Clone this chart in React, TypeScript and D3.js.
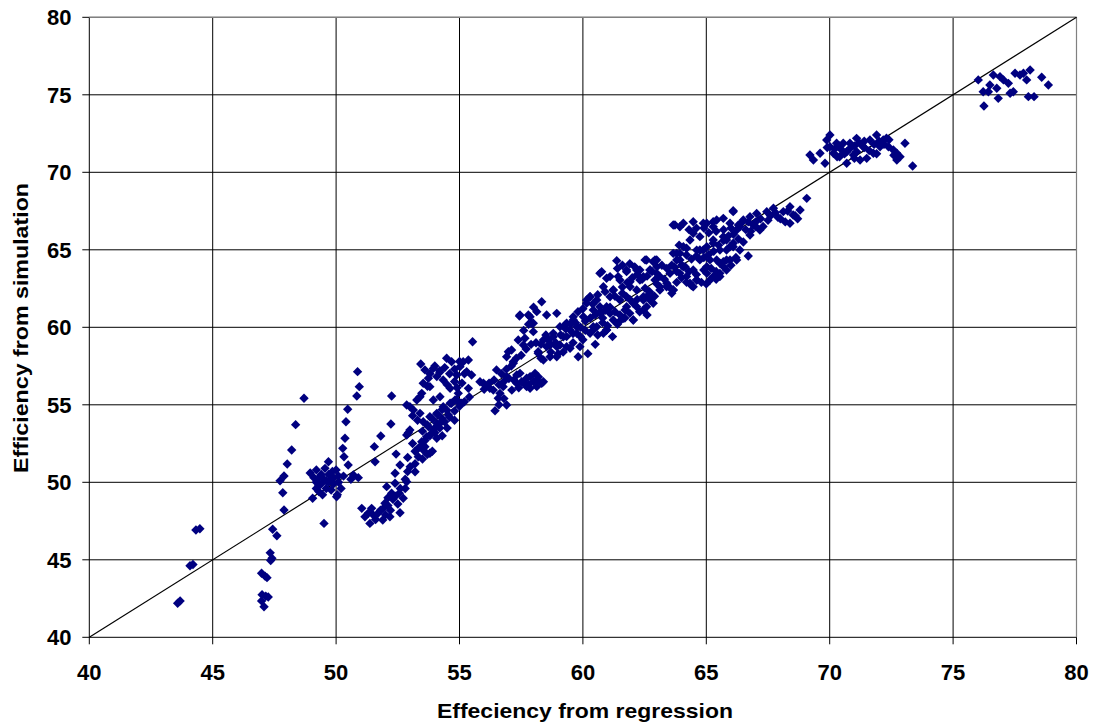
import React from "react";
import * as d3 from "d3";

const xTicks = [40, 45, 50, 55, 60, 65, 70, 75, 80];
const yTicks = [40, 45, 50, 55, 60, 65, 70, 75, 80];
const xTitle = "Effeciency from regression";
const yTitle = "Efficiency from simulation";

const lowLeft: [number, number][] = [
  [43.58, 42.2], [43.68, 42.35], [44.08, 44.62], [44.2, 44.7], [44.32, 46.92], [44.48, 47.0],
  [46.98, 44.13], [47.12, 43.95], [47.2, 43.85], [47.0, 42.75], [47.15, 42.65], [47.25, 42.6],
  [47.08, 41.97], [46.98, 42.35], [47.33, 45.45], [47.4, 45.1], [47.35, 44.95], [47.43, 46.97],
  [47.6, 46.55], [47.89, 48.21], [47.84, 49.33], [47.73, 50.1], [47.89, 50.41], [48.02, 51.18],
  [48.2, 52.08], [48.36, 53.72], [48.7, 55.42],
];

const cluster50: [number, number][] = [
  [48.95, 50.6], [49.1, 50.3], [49.2, 50.0], [49.3, 49.8], [49.05, 48.97], [49.4, 50.5], [49.5, 50.2],
  [49.6, 49.6], [49.55, 50.9], [49.7, 50.0], [49.8, 49.5], [49.9, 50.3], [49.69, 51.33], [49.51, 47.35],
  [49.3, 49.4], [50.0, 50.8], [50.05, 49.2], [49.85, 50.7], [49.2, 50.8], [49.45, 49.2], [50.02, 49.07],
  [50.1, 50.0], [50.2, 49.6], [50.3, 50.4], [50.49, 51.12], [50.7, 50.47], [50.32, 51.65], [50.27, 52.19],
  [50.36, 52.84], [50.4, 53.91], [50.47, 54.71], [50.84, 55.57], [50.94, 56.17], [50.87, 57.14],
  [50.6, 50.2], [50.9, 50.3], [49.3, 50.3], [49.4, 49.9], [49.6, 50.1], [49.7, 50.5], [49.9, 49.9],
  [50.1, 50.4], [49.2, 49.6], [49.8, 50.1],
];

const cluster52: [number, number][] = [
  [51.04, 48.32], [51.17, 47.78], [51.37, 47.35], [51.44, 48.32], [51.6, 47.6], [51.89, 47.57],
  [51.98, 48.65], [52.05, 49.72], [52.25, 49.29], [52.39, 49.94], [52.56, 49.29], [52.59, 48.04],
  [52.18, 47.78], [52.72, 48.97], [52.39, 50.58], [52.86, 50.04], [52.59, 51.12], [53.0, 51.0],
  [53.2, 50.68], [53.33, 51.65], [51.8, 48.2], [52.1, 48.5], [52.3, 48.9], [52.0, 47.9], [52.5, 48.6],
  [52.8, 49.6], [52.43, 51.82], [51.55, 52.3], [51.58, 51.33], [51.81, 52.99], [52.22, 53.76],
  [52.25, 55.57], [52.93, 53.2], [51.7, 48.0], [51.9, 48.3], [52.2, 48.2], [52.4, 49.1], [52.6, 49.6],
  [52.8, 50.2], [52.9, 50.7], [51.3, 48.0], [51.5, 47.9], [52.1, 49.0],
];

const band54: [number, number][] = [
  [52.86, 54.99], [53.13, 54.66], [52.99, 53.37], [53.4, 54.45], [53.53, 53.91], [53.74, 53.59],
  [53.94, 55.31], [54.08, 54.45], [54.21, 53.81], [53.87, 53.16], [54.34, 54.88], [54.55, 54.34],
  [54.62, 55.1], [54.82, 55.31], [55.02, 55.1], [54.95, 55.74], [54.08, 52.84], [53.4, 55.52],
  [52.86, 53.05], [53.33, 52.19], [53.53, 52.08], [53.8, 51.87], [53.47, 52.62], [53.67, 52.94],
  [53.94, 53.37], [54.08, 53.81], [54.28, 54.13], [54.48, 54.66], [54.68, 55.1], [54.89, 55.31],
  [55.09, 55.1], [52.99, 54.88], [53.27, 55.31], [53.47, 55.74], [53.8, 56.17], [54.21, 55.52],
  [53.8, 54.23], [54.5, 53.5], [54.8, 54.0], [54.3, 53.0], [53.6, 52.3], [53.9, 52.0], [54.0, 53.5],
  [53.2, 52.0], [53.4, 52.3], [53.6, 52.7], [53.8, 53.0], [54.0, 53.2], [54.2, 53.5], [54.4, 53.9],
  [54.6, 54.2], [54.8, 54.6], [55.0, 54.9], [55.2, 55.2], [55.4, 55.5], [53.5, 53.3], [53.7, 53.7],
  [53.9, 54.1], [54.1, 54.4], [54.3, 54.7], [53.3, 54.0], [53.1, 54.3], [53.2, 51.2], [53.5, 51.5],
  [53.7, 51.8], [52.9, 51.6], [53.1, 52.5],
];

const upper55: [number, number][] = [
  [53.43, 57.63], [53.6, 57.25], [53.94, 57.35], [53.74, 56.71], [54.08, 56.82], [54.48, 58.0],
  [54.68, 57.78], [54.34, 56.6], [54.62, 56.06], [54.89, 56.92], [55.15, 57.78], [55.36, 57.89],
  [55.29, 57.14], [55.36, 56.06], [55.49, 56.92], [55.53, 59.07], [53.53, 56.39], [55.02, 57.46],
  [54.2, 57.1], [54.8, 56.5], [55.1, 56.4], [53.7, 56.2], [54.0, 57.5], [54.2, 57.2], [54.4, 57.4],
  [54.6, 57.0], [54.8, 57.3], [55.0, 57.8], [55.2, 57.0], [53.8, 57.0], [54.5, 56.3], [54.9, 56.1],
];

const band57: [number, number][] = [
  [55.83, 56.49], [56.03, 56.28], [56.23, 56.06], [56.44, 54.62], [56.5, 57.25], [56.64, 55.74],
  [56.77, 56.17], [56.91, 56.82], [56.98, 58.43], [57.18, 57.78], [57.12, 55.95], [57.32, 56.92],
  [57.38, 59.18], [57.52, 56.49], [57.65, 59.29], [57.72, 56.71], [57.86, 56.06], [57.93, 60.26],
  [57.99, 59.72], [58.13, 61.01], [58.33, 61.65], [58.53, 60.79], [57.79, 60.79], [57.43, 60.73],
  [58.06, 57.03], [58.13, 56.17], [58.4, 56.49], [58.19, 58.43], [58.4, 57.89], [56.91, 54.99],
  [55.97, 56.39], [56.37, 55.95], [56.57, 55.42], [56.91, 58.1], [57.11, 58.54], [57.59, 58.86],
  [57.86, 60.68], [57.45, 60.79], [57.99, 60.26], [57.18, 57.68], [57.45, 57.03], [57.86, 56.82],
  [58.13, 56.6], [58.33, 56.39], [57.72, 56.17], [57.32, 56.39], [58.19, 58.32], [58.53, 58.75],
  [58.67, 58.1], [56.0, 56.0], [56.2, 56.4], [56.4, 56.6], [56.6, 56.3], [56.8, 56.5], [57.0, 56.7],
  [57.2, 56.6], [57.4, 56.1], [57.6, 56.4], [57.8, 56.3], [58.0, 56.5], [58.2, 56.8], [56.7, 57.0],
  [56.9, 57.3], [57.1, 57.5], [57.3, 58.0], [57.5, 58.2], [57.7, 58.6], [57.9, 58.9], [58.1, 59.0],
  [58.3, 58.9], [58.5, 59.5], [57.6, 59.8], [57.8, 60.2], [58.0, 61.3], [58.3, 58.0], [56.6, 55.0],
  [56.8, 55.4],
];

const cluster60: [number, number][] = [
  [58.6, 59.18], [58.8, 59.61], [58.94, 58.1], [59.07, 58.86], [59.28, 60.15], [59.34, 59.4],
  [59.48, 58.65], [59.61, 60.47], [59.75, 59.61], [59.81, 58.1], [58.4, 59.18], [58.8, 59.39],
  [59.07, 60.04], [59.21, 59.39], [59.34, 58.75], [59.48, 59.83], [59.88, 58.75], [58.94, 58.75],
  [58.94, 60.9], [60.15, 61.55], [60.29, 61.97], [60.42, 61.12], [60.69, 60.9], [60.96, 61.33],
  [60.56, 60.04], [60.96, 59.83], [61.23, 60.47], [61.64, 60.58], [62.04, 60.47], [61.77, 61.33],
  [62.18, 61.33], [62.45, 61.76], [62.58, 61.33], [62.85, 61.97], [60.29, 61.97], [60.56, 61.76],
  [61.1, 61.97], [61.5, 61.76], [61.77, 61.97], [62.04, 61.55], [62.45, 61.97], [62.72, 61.76],
  [61.71, 61.12], [62.04, 60.47], [61.47, 60.36], [60.96, 59.83], [60.42, 60.04], [60.02, 60.68],
  [60.15, 61.76], [60.69, 61.33], [61.1, 60.9], [59.61, 60.68], [59.34, 60.26], [59.75, 60.04],
  [60.29, 59.61], [60.83, 59.61], [60.0, 59.2], [60.5, 58.9], [60.2, 58.3], [59.6, 59.0],
  [61.2, 59.4], [60.8, 60.3], [61.9, 60.9], [62.3, 61.0], [62.6, 60.8],
  [58.7, 58.4], [58.9, 59.0], [59.1, 59.5], [59.3, 59.9], [59.5, 60.2], [59.7, 60.3], [59.9, 60.0],
  [60.1, 60.4], [60.3, 60.6], [60.5, 60.8], [60.7, 61.0], [60.9, 61.1], [61.1, 61.3], [61.3, 61.0],
  [61.5, 60.8], [60.4, 59.8], [60.6, 59.5], [60.1, 59.8], [59.9, 59.4], [59.6, 59.6], [59.2, 58.4],
  [59.0, 58.3], [58.7, 58.9], [60.8, 60.6], [61.0, 60.1], [61.4, 60.2], [61.7, 60.6], [59.8, 61.0],
  [60.0, 61.2], [60.4, 61.5], [60.6, 62.1], [60.9, 62.3], [61.3, 62.0], [61.6, 62.2], [61.9, 61.8],
  [62.2, 61.8],
];

const cluster63: [number, number][] = [
  [61.37, 64.3], [60.76, 63.59], [60.96, 63.16], [60.83, 62.62], [61.23, 62.41], [61.43, 63.27],
  [61.77, 63.59], [61.91, 62.94], [62.18, 63.7], [62.52, 64.35], [62.92, 64.35], [62.72, 63.7],
  [62.31, 63.05], [62.52, 62.52], [62.92, 63.05], [63.12, 62.62], [63.4, 62.84], [63.66, 62.41],
  [63.53, 63.48], [62.18, 62.41], [60.69, 63.48], [61.1, 63.27], [61.5, 63.05], [61.23, 62.41],
  [61.91, 62.62], [62.31, 63.7], [62.58, 64.34], [62.85, 64.23], [62.99, 63.48], [61.77, 63.7],
  [63.12, 62.41], [63.39, 62.62], [63.66, 62.41], [62.99, 64.34], [62.72, 63.7], [62.45, 63.27],
  [63.12, 63.27], [63.6, 62.19], [62.58, 61.97], [62.85, 61.55], [62.45, 61.12],
  [61.6, 62.6], [61.8, 62.9], [62.0, 63.2], [62.2, 63.4], [62.4, 63.1], [62.6, 63.3], [62.8, 63.6],
  [63.0, 63.9], [63.2, 64.0], [63.4, 63.8], [63.6, 64.0], [63.8, 63.6], [63.0, 62.8], [63.3, 63.1],
  [62.7, 62.3], [62.9, 62.0], [63.5, 62.6], [63.8, 62.9], [64.0, 63.2], [64.2, 62.9], [61.4, 63.8],
  [61.6, 64.0], [61.9, 64.1], [62.1, 63.9],
];

const cluster65: [number, number][] = [
  [63.73, 66.6], [64.07, 66.71], [64.47, 66.81], [64.88, 66.71], [65.28, 66.81], [65.69, 67.03],
  [66.09, 67.46], [63.8, 64.77], [63.93, 64.35], [64.2, 64.66], [64.14, 63.91], [64.47, 63.7],
  [64.34, 62.84], [64.61, 63.05], [65.02, 63.48], [65.28, 63.27], [65.55, 63.48], [65.82, 63.7],
  [64.74, 65.85], [65.02, 65.2], [65.28, 65.42], [65.55, 64.98], [65.82, 65.63], [66.09, 65.2],
  [64.61, 64.98], [64.74, 64.35], [65.15, 64.35], [65.55, 64.13], [65.96, 64.35], [66.23, 66.28],
  [64.47, 66.06], [64.07, 65.2], [63.66, 66.6], [65.02, 66.71], [65.42, 66.92], [63.66, 64.77],
  [63.8, 64.34], [64.07, 63.91], [64.2, 63.27], [64.47, 62.62], [64.61, 63.05], [65.15, 63.05],
  [65.55, 63.27], [64.88, 64.99], [65.02, 63.91], [65.42, 64.34], [65.28, 65.63], [64.34, 65.63],
  [63.93, 64.77], [63.93, 63.48], [63.93, 66.49], [65.28, 66.49], [64.74, 64.99], [65.82, 64.34],
  [65.96, 65.2], [65.69, 65.85], [66.09, 65.42], [65.82, 64.99], [66.36, 64.99], [66.7, 64.6],
  [66.23, 64.34], [65.69, 64.23],
  [63.9, 65.3], [64.2, 65.1], [64.4, 64.4], [64.6, 64.6], [64.9, 64.5], [65.1, 64.7], [65.3, 64.9],
  [65.5, 65.3], [65.7, 65.6], [65.9, 65.9], [66.1, 66.0], [66.3, 65.7], [66.5, 65.5], [64.3, 66.3],
  [64.6, 66.4], [64.9, 66.4], [65.1, 66.1], [65.4, 66.2], [65.7, 66.3], [66.0, 66.4], [66.3, 66.6],
  [64.3, 63.6], [64.6, 63.4], [64.9, 63.7], [65.2, 63.8], [65.4, 63.6], [65.7, 63.9], [66.0, 64.0],
  [66.2, 64.5], [64.8, 62.9], [65.0, 62.8], [65.4, 63.1], [64.0, 64.0], [63.7, 63.9], [64.4, 62.7],
];

const cluster68: [number, number][] = [
  [66.5, 66.92], [66.77, 67.14], [67.04, 67.35], [67.45, 67.46], [67.72, 67.68], [68.12, 67.46],
  [68.39, 67.78], [68.52, 67.25], [68.8, 67.57], [69.07, 68.32], [68.39, 66.71], [66.77, 65.95],
  [67.17, 66.28], [66.36, 66.49], [65.96, 66.71], [66.09, 67.52], [67.5, 66.9], [67.9, 67.1],
  [68.2, 66.8], [68.6, 67.2], [67.3, 66.5], [66.9, 66.6], [66.6, 66.3], [66.4, 66.7], [66.7, 66.8],
  [67.0, 66.8], [67.2, 67.0], [67.6, 67.2], [67.8, 67.4], [68.0, 67.0], [68.3, 67.5], [68.7, 67.0],
  [66.8, 66.2], [67.0, 66.5],
];

const cluster71: [number, number][] = [
  [69.2, 71.12], [69.34, 70.79], [69.81, 70.58], [69.88, 72.08], [70.01, 71.65], [70.28, 71.87],
  [70.49, 71.44], [70.69, 70.58], [70.82, 71.87], [70.96, 71.12], [71.09, 72.19], [71.23, 70.79],
  [71.36, 71.65], [71.63, 72.08], [71.77, 71.23], [71.9, 72.41], [72.17, 72.08], [72.38, 71.65],
  [72.58, 71.44], [72.72, 70.79], [72.85, 71.0], [73.05, 71.87], [73.36, 70.41], [70.55, 71.87],
  [71.09, 71.33], [70.69, 71.33], [72.04, 71.65], [71.5, 70.9], [69.61, 71.23], [70.15, 71.23],
  [72.72, 71.23], [70.01, 72.41], [71.4, 72.0], [70.3, 71.0], [72.3, 72.2], [69.9, 71.6], [70.2, 71.5],
  [70.4, 71.7], [70.6, 71.2], [70.8, 71.5], [71.0, 71.7], [71.2, 71.9], [71.4, 71.6], [71.6, 71.4],
  [71.8, 71.8], [72.0, 72.0], [72.2, 71.8], [72.4, 72.1], [71.0, 70.9], [70.4, 71.0], [71.9, 71.2],
  [72.6, 71.1],
];

const cluster77: [number, number][] = [
  [76.02, 75.96], [76.22, 75.2], [76.25, 74.28], [76.49, 75.63], [76.77, 75.42], [76.83, 74.77],
  [77.04, 75.96], [77.24, 75.74], [77.31, 75.1], [77.51, 76.39], [77.71, 76.28], [77.98, 75.96],
  [78.12, 76.6], [78.05, 74.88], [78.28, 74.88], [78.59, 76.13], [78.86, 75.63], [76.63, 76.28],
  [76.9, 76.17], [77.44, 75.2], [76.43, 75.2], [77.85, 76.39],
];

const points: [number, number][] = [
  ...lowLeft, ...cluster50, ...cluster52, ...band54, ...upper55, ...band57,
  ...cluster60, ...cluster63, ...cluster65, ...cluster68, ...cluster71, ...cluster77,
];

const W = 1093;
const H = 727;
const left = 89.3;
const right = 1076.5;
const top = 17.3;
const bottom = 637.3;
const font = "'Liberation Sans', Arial, sans-serif";

export default function App() {
  const x = d3.scaleLinear().domain([40, 80]).range([left, right]);
  const y = d3.scaleLinear().domain([40, 80]).range([bottom, top]);
  const r = 4.7;
  const diamond = `M0,${-r}L${r},0L0,${r}L${-r},0Z`;
  const line = d3.line<number>().x((d) => x(d)).y((d) => y(d));
  return (
    <svg
      width={W}
      height={H}
      style={{ position: "absolute", left: 0, top: 0, background: "#fff" }}
    >
      <rect x={0} y={0} width={W} height={H} fill="#fff" />
      {xTicks.map((t) => (
        <line key={"gx" + t} x1={x(t)} x2={x(t)} y1={top} y2={bottom + 7} stroke="#000" strokeWidth={1} />
      ))}
      {yTicks.map((t) => (
        <line key={"gy" + t} x1={left - 7} x2={right} y1={y(t)} y2={y(t)} stroke="#000" strokeWidth={1} />
      ))}
      <line x1={left} x2={right} y1={top} y2={top} stroke="#808080" strokeWidth={1.2} />
      <line x1={right} x2={right} y1={top} y2={bottom} stroke="#808080" strokeWidth={1.2} />
      <path d={line([40, 80]) || ""} stroke="#000" strokeWidth={1.2} fill="none" />
      {points.map((p, i) => (
        <path key={i} d={diamond} transform={`translate(${x(p[0])},${y(p[1])})`} fill="#000080" />
      ))}
      {xTicks.map((t) => (
        <text key={"tx" + t} x={x(t)} y={680} textAnchor="middle" fontFamily={font} fontWeight="bold" fontSize={22}>
          {t}
        </text>
      ))}
      {yTicks.map((t) => (
        <text key={"ty" + t} x={71.5} y={y(t) + 8} textAnchor="end" fontFamily={font} fontWeight="bold" fontSize={22}>
          {t}
        </text>
      ))}
      <text x={585} y={718} textAnchor="middle" fontFamily={font} fontWeight="bold" fontSize={21}
        textLength={296} lengthAdjust="spacingAndGlyphs">
        {xTitle}
      </text>
      <text
        transform={`translate(28,328) rotate(-90)`}
        textAnchor="middle"
        fontFamily={font}
        fontWeight="bold"
        fontSize={21}
        textLength={290}
        lengthAdjust="spacingAndGlyphs"
      >
        {yTitle}
      </text>
    </svg>
  );
}
